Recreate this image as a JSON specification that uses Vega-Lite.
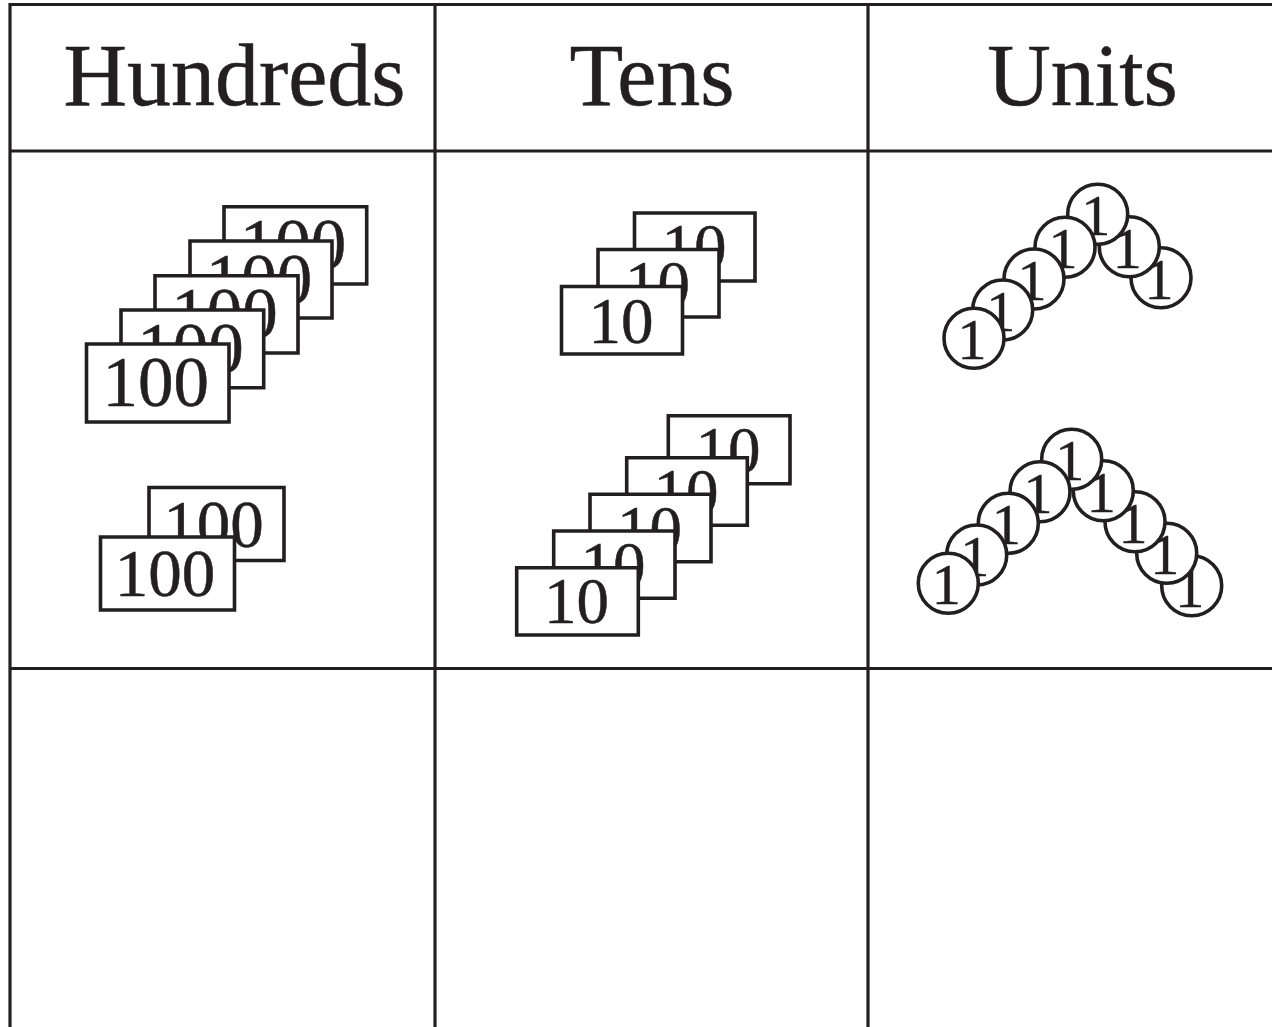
{"$schema":"https://vega.github.io/schema/vega-lite/v6.json","width":1272,"height":1027,"autosize":{"type":"none"},"padding":0,"background":"white","config":{"view":{"stroke":null},"text":{"font":"Liberation Serif","align":"center","baseline":"alphabetic","fill":"#231f20","stroke":"#231f20","strokeWidth":0.5},"rect":{"fill":"white","stroke":"#231f20","strokeWidth":3.6},"circle":{"size":3600,"opacity":1,"fill":"white","stroke":"#231f20","strokeWidth":3.6},"rule":{"stroke":"#231f20","strokeWidth":3.2}},
"data":{"values":[
{"n":0,"kind":"line","x":10,"x2":1272,"y":4.5,"y2":4.5},
{"n":0,"kind":"line","x":10,"x2":1272,"y":151,"y2":151},
{"n":0,"kind":"line","x":10,"x2":1272,"y":668.5,"y2":668.5},
{"n":0,"kind":"line","x":10,"x2":10,"y":3,"y2":1027},
{"n":0,"kind":"line","x":435,"x2":435,"y":4.5,"y2":1027},
{"n":0,"kind":"line","x":868,"x2":868,"y":4.5,"y2":1027},
{"n":-1,"kind":"header","tx":234.5,"ty":104.5,"label":"Hundreds"},
{"n":-1,"kind":"header","tx":652,"ty":104.5,"label":"Tens"},
{"n":-1,"kind":"header","tx":1082.5,"ty":104.5,"label":"Units"},
{"n":1,"x":224,"x2":366.7,"y":206.7,"y2":284,"tx":293,"ty":268,"label":"100"},
{"n":2,"x":190,"x2":332,"y":241,"y2":318,"tx":259,"ty":302.5,"label":"100"},
{"n":3,"x":155,"x2":298,"y":275.7,"y2":353,"tx":224.5,"ty":337,"label":"100"},
{"n":4,"x":121,"x2":263.7,"y":310,"y2":387.7,"tx":190.5,"ty":371.5,"label":"100"},
{"n":5,"x":86.5,"x2":229,"y":344,"y2":422,"tx":155.7,"ty":405.7,"label":"100"},
{"n":6,"x":149,"x2":284,"y":487.5,"y2":560.5,"tx":213.5,"ty":546.5,"label":"100"},
{"n":7,"x":100.5,"x2":234.5,"y":537,"y2":610,"tx":165,"ty":595.5,"label":"100"},
{"n":8,"x":634.5,"x2":755,"y":213,"y2":281,"tx":694,"ty":269,"label":"10"},
{"n":9,"x":598,"x2":719,"y":249.5,"y2":317,"tx":657.5,"ty":305.5,"label":"10"},
{"n":10,"x":561.5,"x2":682.5,"y":286.5,"y2":354,"tx":621,"ty":342.5,"label":"10"},
{"n":11,"x":668.3,"x2":790,"y":415.7,"y2":483.7,"tx":728,"ty":472,"label":"10"},
{"n":12,"x":626.7,"x2":747.3,"y":457.7,"y2":525.3,"tx":686,"ty":513.5,"label":"10"},
{"n":13,"x":590,"x2":711,"y":494.3,"y2":561.7,"tx":649.5,"ty":550.5,"label":"10"},
{"n":14,"x":553.7,"x2":675,"y":531,"y2":598.3,"tx":613,"ty":587,"label":"10"},
{"n":15,"x":516.7,"x2":638.3,"y":567.7,"y2":635,"tx":576.5,"ty":623.3,"label":"10"},
{"n":16,"x":1161,"y":277.7,"tx":1159,"ty":298.7,"label":"1"},
{"n":17,"x":1129.3,"y":246.7,"tx":1127.3,"ty":267.7,"label":"1"},
{"n":18,"x":1097.7,"y":214.3,"tx":1095.7,"ty":235.3,"label":"1"},
{"n":19,"x":1065,"y":247.3,"tx":1063,"ty":268.3,"label":"1"},
{"n":20,"x":1034,"y":279,"tx":1032,"ty":300,"label":"1"},
{"n":21,"x":1002.7,"y":310,"tx":1000.7,"ty":331,"label":"1"},
{"n":22,"x":974,"y":338.3,"tx":972,"ty":359.3,"label":"1"},
{"n":23,"x":1191.7,"y":585.7,"tx":1189.7,"ty":606.7,"label":"1"},
{"n":24,"x":1166.7,"y":553.3,"tx":1164.7,"ty":574.3,"label":"1"},
{"n":25,"x":1135,"y":521.7,"tx":1133,"ty":542.7,"label":"1"},
{"n":26,"x":1103.3,"y":490.7,"tx":1101.3,"ty":511.7,"label":"1"},
{"n":27,"x":1071.7,"y":459.3,"tx":1069.7,"ty":480.3,"label":"1"},
{"n":28,"x":1040,"y":491.7,"tx":1038,"ty":512.7,"label":"1"},
{"n":29,"x":1008.3,"y":523.3,"tx":1006.3,"ty":544.3,"label":"1"},
{"n":30,"x":976.7,"y":555,"tx":974.7,"ty":576,"label":"1"},
{"n":31,"x":948.3,"y":583.3,"tx":946.3,"ty":604.3,"label":"1"}
]},
"encoding":{"x":{"field":"x","type":"quantitative","scale":{"domain":[0,1272],"nice":false,"zero":false},"axis":null},"y":{"field":"y","type":"quantitative","scale":{"domain":[0,1027],"reverse":true,"nice":false,"zero":false},"axis":null}},
"layer":[
{"transform":[{"filter":"datum.n==1"}],"mark":"rect","encoding":{"x2":{"field":"x2"},"y2":{"field":"y2"}}},
{"transform":[{"filter":"datum.n==1"}],"mark":{"type":"text","fontSize":71},"encoding":{"x":{"field":"tx","type":"quantitative"},"y":{"field":"ty","type":"quantitative"},"text":{"field":"label"}}},
{"transform":[{"filter":"datum.n==2"}],"mark":"rect","encoding":{"x2":{"field":"x2"},"y2":{"field":"y2"}}},
{"transform":[{"filter":"datum.n==2"}],"mark":{"type":"text","fontSize":71},"encoding":{"x":{"field":"tx","type":"quantitative"},"y":{"field":"ty","type":"quantitative"},"text":{"field":"label"}}},
{"transform":[{"filter":"datum.n==3"}],"mark":"rect","encoding":{"x2":{"field":"x2"},"y2":{"field":"y2"}}},
{"transform":[{"filter":"datum.n==3"}],"mark":{"type":"text","fontSize":71},"encoding":{"x":{"field":"tx","type":"quantitative"},"y":{"field":"ty","type":"quantitative"},"text":{"field":"label"}}},
{"transform":[{"filter":"datum.n==4"}],"mark":"rect","encoding":{"x2":{"field":"x2"},"y2":{"field":"y2"}}},
{"transform":[{"filter":"datum.n==4"}],"mark":{"type":"text","fontSize":71},"encoding":{"x":{"field":"tx","type":"quantitative"},"y":{"field":"ty","type":"quantitative"},"text":{"field":"label"}}},
{"transform":[{"filter":"datum.n==5"}],"mark":"rect","encoding":{"x2":{"field":"x2"},"y2":{"field":"y2"}}},
{"transform":[{"filter":"datum.n==5"}],"mark":{"type":"text","fontSize":71},"encoding":{"x":{"field":"tx","type":"quantitative"},"y":{"field":"ty","type":"quantitative"},"text":{"field":"label"}}},
{"transform":[{"filter":"datum.n==6"}],"mark":"rect","encoding":{"x2":{"field":"x2"},"y2":{"field":"y2"}}},
{"transform":[{"filter":"datum.n==6"}],"mark":{"type":"text","fontSize":67},"encoding":{"x":{"field":"tx","type":"quantitative"},"y":{"field":"ty","type":"quantitative"},"text":{"field":"label"}}},
{"transform":[{"filter":"datum.n==7"}],"mark":"rect","encoding":{"x2":{"field":"x2"},"y2":{"field":"y2"}}},
{"transform":[{"filter":"datum.n==7"}],"mark":{"type":"text","fontSize":67},"encoding":{"x":{"field":"tx","type":"quantitative"},"y":{"field":"ty","type":"quantitative"},"text":{"field":"label"}}},
{"transform":[{"filter":"datum.n==8"}],"mark":"rect","encoding":{"x2":{"field":"x2"},"y2":{"field":"y2"}}},
{"transform":[{"filter":"datum.n==8"}],"mark":{"type":"text","fontSize":65},"encoding":{"x":{"field":"tx","type":"quantitative"},"y":{"field":"ty","type":"quantitative"},"text":{"field":"label"}}},
{"transform":[{"filter":"datum.n==9"}],"mark":"rect","encoding":{"x2":{"field":"x2"},"y2":{"field":"y2"}}},
{"transform":[{"filter":"datum.n==9"}],"mark":{"type":"text","fontSize":65},"encoding":{"x":{"field":"tx","type":"quantitative"},"y":{"field":"ty","type":"quantitative"},"text":{"field":"label"}}},
{"transform":[{"filter":"datum.n==10"}],"mark":"rect","encoding":{"x2":{"field":"x2"},"y2":{"field":"y2"}}},
{"transform":[{"filter":"datum.n==10"}],"mark":{"type":"text","fontSize":65},"encoding":{"x":{"field":"tx","type":"quantitative"},"y":{"field":"ty","type":"quantitative"},"text":{"field":"label"}}},
{"transform":[{"filter":"datum.n==11"}],"mark":"rect","encoding":{"x2":{"field":"x2"},"y2":{"field":"y2"}}},
{"transform":[{"filter":"datum.n==11"}],"mark":{"type":"text","fontSize":65},"encoding":{"x":{"field":"tx","type":"quantitative"},"y":{"field":"ty","type":"quantitative"},"text":{"field":"label"}}},
{"transform":[{"filter":"datum.n==12"}],"mark":"rect","encoding":{"x2":{"field":"x2"},"y2":{"field":"y2"}}},
{"transform":[{"filter":"datum.n==12"}],"mark":{"type":"text","fontSize":65},"encoding":{"x":{"field":"tx","type":"quantitative"},"y":{"field":"ty","type":"quantitative"},"text":{"field":"label"}}},
{"transform":[{"filter":"datum.n==13"}],"mark":"rect","encoding":{"x2":{"field":"x2"},"y2":{"field":"y2"}}},
{"transform":[{"filter":"datum.n==13"}],"mark":{"type":"text","fontSize":65},"encoding":{"x":{"field":"tx","type":"quantitative"},"y":{"field":"ty","type":"quantitative"},"text":{"field":"label"}}},
{"transform":[{"filter":"datum.n==14"}],"mark":"rect","encoding":{"x2":{"field":"x2"},"y2":{"field":"y2"}}},
{"transform":[{"filter":"datum.n==14"}],"mark":{"type":"text","fontSize":65},"encoding":{"x":{"field":"tx","type":"quantitative"},"y":{"field":"ty","type":"quantitative"},"text":{"field":"label"}}},
{"transform":[{"filter":"datum.n==15"}],"mark":"rect","encoding":{"x2":{"field":"x2"},"y2":{"field":"y2"}}},
{"transform":[{"filter":"datum.n==15"}],"mark":{"type":"text","fontSize":65},"encoding":{"x":{"field":"tx","type":"quantitative"},"y":{"field":"ty","type":"quantitative"},"text":{"field":"label"}}},
{"transform":[{"filter":"datum.n==16"}],"mark":"circle"},
{"transform":[{"filter":"datum.n==16"}],"mark":{"type":"text","fontSize":58},"encoding":{"x":{"field":"tx","type":"quantitative"},"y":{"field":"ty","type":"quantitative"},"text":{"field":"label"}}},
{"transform":[{"filter":"datum.n==17"}],"mark":"circle"},
{"transform":[{"filter":"datum.n==17"}],"mark":{"type":"text","fontSize":58},"encoding":{"x":{"field":"tx","type":"quantitative"},"y":{"field":"ty","type":"quantitative"},"text":{"field":"label"}}},
{"transform":[{"filter":"datum.n==18"}],"mark":"circle"},
{"transform":[{"filter":"datum.n==18"}],"mark":{"type":"text","fontSize":58},"encoding":{"x":{"field":"tx","type":"quantitative"},"y":{"field":"ty","type":"quantitative"},"text":{"field":"label"}}},
{"transform":[{"filter":"datum.n==19"}],"mark":"circle"},
{"transform":[{"filter":"datum.n==19"}],"mark":{"type":"text","fontSize":58},"encoding":{"x":{"field":"tx","type":"quantitative"},"y":{"field":"ty","type":"quantitative"},"text":{"field":"label"}}},
{"transform":[{"filter":"datum.n==20"}],"mark":"circle"},
{"transform":[{"filter":"datum.n==20"}],"mark":{"type":"text","fontSize":58},"encoding":{"x":{"field":"tx","type":"quantitative"},"y":{"field":"ty","type":"quantitative"},"text":{"field":"label"}}},
{"transform":[{"filter":"datum.n==21"}],"mark":"circle"},
{"transform":[{"filter":"datum.n==21"}],"mark":{"type":"text","fontSize":58},"encoding":{"x":{"field":"tx","type":"quantitative"},"y":{"field":"ty","type":"quantitative"},"text":{"field":"label"}}},
{"transform":[{"filter":"datum.n==22"}],"mark":"circle"},
{"transform":[{"filter":"datum.n==22"}],"mark":{"type":"text","fontSize":58},"encoding":{"x":{"field":"tx","type":"quantitative"},"y":{"field":"ty","type":"quantitative"},"text":{"field":"label"}}},
{"transform":[{"filter":"datum.n==23"}],"mark":"circle"},
{"transform":[{"filter":"datum.n==23"}],"mark":{"type":"text","fontSize":58},"encoding":{"x":{"field":"tx","type":"quantitative"},"y":{"field":"ty","type":"quantitative"},"text":{"field":"label"}}},
{"transform":[{"filter":"datum.n==24"}],"mark":"circle"},
{"transform":[{"filter":"datum.n==24"}],"mark":{"type":"text","fontSize":58},"encoding":{"x":{"field":"tx","type":"quantitative"},"y":{"field":"ty","type":"quantitative"},"text":{"field":"label"}}},
{"transform":[{"filter":"datum.n==25"}],"mark":"circle"},
{"transform":[{"filter":"datum.n==25"}],"mark":{"type":"text","fontSize":58},"encoding":{"x":{"field":"tx","type":"quantitative"},"y":{"field":"ty","type":"quantitative"},"text":{"field":"label"}}},
{"transform":[{"filter":"datum.n==26"}],"mark":"circle"},
{"transform":[{"filter":"datum.n==26"}],"mark":{"type":"text","fontSize":58},"encoding":{"x":{"field":"tx","type":"quantitative"},"y":{"field":"ty","type":"quantitative"},"text":{"field":"label"}}},
{"transform":[{"filter":"datum.n==27"}],"mark":"circle"},
{"transform":[{"filter":"datum.n==27"}],"mark":{"type":"text","fontSize":58},"encoding":{"x":{"field":"tx","type":"quantitative"},"y":{"field":"ty","type":"quantitative"},"text":{"field":"label"}}},
{"transform":[{"filter":"datum.n==28"}],"mark":"circle"},
{"transform":[{"filter":"datum.n==28"}],"mark":{"type":"text","fontSize":58},"encoding":{"x":{"field":"tx","type":"quantitative"},"y":{"field":"ty","type":"quantitative"},"text":{"field":"label"}}},
{"transform":[{"filter":"datum.n==29"}],"mark":"circle"},
{"transform":[{"filter":"datum.n==29"}],"mark":{"type":"text","fontSize":58},"encoding":{"x":{"field":"tx","type":"quantitative"},"y":{"field":"ty","type":"quantitative"},"text":{"field":"label"}}},
{"transform":[{"filter":"datum.n==30"}],"mark":"circle"},
{"transform":[{"filter":"datum.n==30"}],"mark":{"type":"text","fontSize":58},"encoding":{"x":{"field":"tx","type":"quantitative"},"y":{"field":"ty","type":"quantitative"},"text":{"field":"label"}}},
{"transform":[{"filter":"datum.n==31"}],"mark":"circle"},
{"transform":[{"filter":"datum.n==31"}],"mark":{"type":"text","fontSize":58},"encoding":{"x":{"field":"tx","type":"quantitative"},"y":{"field":"ty","type":"quantitative"},"text":{"field":"label"}}},
{"transform":[{"filter":"datum.kind=='line'"}],"mark":"rule","encoding":{"x2":{"field":"x2"},"y2":{"field":"y2"}}},
{"transform":[{"filter":"datum.kind=='header'"}],"mark":{"type":"text","fontSize":88},"encoding":{"x":{"field":"tx","type":"quantitative"},"y":{"field":"ty","type":"quantitative"},"text":{"field":"label"}}}
]}
